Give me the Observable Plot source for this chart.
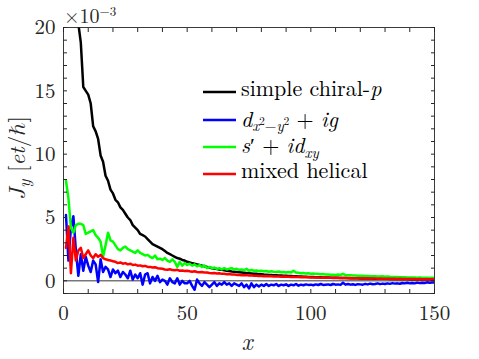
<!DOCTYPE html>
<html>
<head>
<meta charset="utf-8">
<script src="https://cdn.jsdelivr.net/npm/d3@7"></script>
<script src="https://cdn.jsdelivr.net/npm/@observablehq/plot@0.6"></script>
<style>
  html, body { margin: 0; padding: 0; background: #fff; }
  #chart { position: relative; width: 479px; height: 359px; }
  svg, svg text { font-family: "Latin Modern Roman", "Liberation Serif", serif; }
</style>
</head>
<body>
<div id="chart"></div>
<script>
// ---- data (x = 1..150) ----
const xs = d3.range(1, 151);

const chiralP = [
  40, 34, 29, 25, 22, 20.3, 18.8, 15.3, 15.0, 14.7,
  14.0, 12.2, 11.8, 11.2, 9.9, 9.4, 8.3, 7.9, 7.2, 6.9,
  6.4, 6.2, 5.8, 5.6, 5.3, 5.0, 4.8, 4.4, 4.2, 4.0,
  3.7, 3.6, 3.5, 3.3, 3.1, 2.9, 2.8, 2.7, 2.6, 2.5,
  2.35, 2.2, 2.1, 2.0, 1.9, 1.8, 1.75, 1.65, 1.6, 1.5,
  1.45, 1.4, 1.35, 1.3, 1.25, 1.2, 1.15, 1.1, 1.05, 1.0,
  0.97, 0.93, 0.9, 0.87, 0.84, 0.8, 0.77, 0.74, 0.72, 0.7,
  0.68, 0.66, 0.64, 0.62, 0.6, 0.58, 0.56, 0.55, 0.53, 0.52,
  0.5, 0.49, 0.47, 0.46, 0.45, 0.44, 0.43, 0.42, 0.41, 0.40,
  0.39, 0.38, 0.37, 0.36, 0.35, 0.34, 0.33, 0.32, 0.31, 0.30,
  0.30, 0.29, 0.28, 0.28, 0.27, 0.26, 0.26, 0.25, 0.25, 0.24,
  0.24, 0.23, 0.23, 0.22, 0.22, 0.21, 0.21, 0.20, 0.20, 0.19,
  0.19, 0.19, 0.18, 0.18, 0.18, 0.17, 0.17, 0.17, 0.16, 0.16,
  0.16, 0.15, 0.15, 0.15, 0.15, 0.14, 0.14, 0.14, 0.14, 0.13,
  0.13, 0.13, 0.13, 0.12, 0.12, 0.12, 0.12, 0.12, 0.11, 0.11
];

const dxyIg = [
  5.2, 1.6, 4.2, 5.1, 2.4, 0.4, 2.1, 0.8, 1.9, 1.2,
  0.7, 1.6, 1.3, -0.1, 1.7, 0.7, 1.1, 0.9, 0.3, 0.9,
  0.6, 0.8, 0.3, 0.7, 0.5, 0.2, 0.8, 0.1, 0.5, 0.2,
  0.6, -0.3, 0.5, 0.6, -0.2, 0.3, 0.0, 0.4, -0.1, 0.1,
  0.0, -0.3, 0.2, -0.1, -0.2, 0.2, -0.3, 0.0, -0.2, -0.2,
  0.0, -0.4, -0.7, 0.1, -0.2, -0.4, -0.1, -0.3, -0.5, -0.3,
  -0.1, -0.4, -0.2, -0.3, -0.1, -0.3, -0.2, -0.4, -0.2, -0.3,
  -0.4, -0.2, -0.5, -0.3, -0.6, -0.2, -0.5, -0.3, -0.45, -0.3,
  -0.4, -0.25, -0.4, -0.3, -0.35, -0.25, -0.4, -0.3, -0.35, -0.28,
  -0.4, -0.3, -0.35, -0.25, -0.38, -0.3, -0.35, -0.28, -0.32, -0.3,
  -0.35, -0.28, -0.33, -0.25, -0.32, -0.3, -0.28, -0.33, -0.25, -0.3,
  -0.28, -0.32, -0.15, -0.3, -0.25, -0.3, -0.27, -0.32, -0.26, -0.28,
  -0.3, -0.24, -0.28, -0.22, -0.27, -0.25, -0.2, -0.26, -0.22, -0.25,
  -0.2, -0.24, -0.18, -0.22, -0.2, -0.23, -0.17, -0.2, -0.15, -0.2,
  -0.17, -0.2, -0.14, -0.18, -0.15, -0.17, -0.12, -0.15, -0.13, -0.12
];

const sIdxy = [
  7.9, 6.5, 4.2, 3.8, 4.4, 4.5, 4.5, 4.4, 3.7, 3.8,
  3.9, 4.0, 3.6, 3.4, 3.1, 1.9, 2.8, 3.8, 3.2, 3.1,
  2.8, 2.5, 2.4, 2.6, 2.7, 2.5, 2.4, 2.3, 2.2, 2.4,
  2.2, 2.1, 2.0, 2.05, 1.9, 1.8, 2.0, 1.7, 1.75, 1.65,
  1.8, 1.6, 1.5, 1.7, 1.5, 1.1, 1.5, 1.2, 1.4, 1.25,
  1.35, 1.2, 1.3, 1.15, 1.25, 1.1, 1.2, 1.0, 1.1, 1.0,
  1.05, 0.95, 1.0, 0.9, 1.0, 0.9, 0.95, 1.0, 0.9, 0.95,
  0.87, 0.9, 0.85, 0.95, 0.8, 0.85, 0.8, 0.82, 0.78, 0.8,
  0.75, 0.78, 0.72, 0.76, 0.72, 0.7, 0.74, 0.68, 0.7, 0.66,
  0.7, 0.65, 0.8, 0.66, 0.64, 0.6, 0.62, 0.58, 0.6, 0.56,
  0.58, 0.55, 0.54, 0.52, 0.53, 0.5, 0.5, 0.48, 0.49, 0.47,
  0.5, 0.46, 0.55, 0.45, 0.44, 0.45, 0.42, 0.43, 0.41, 0.4,
  0.41, 0.38, 0.39, 0.37, 0.36, 0.37, 0.35, 0.34, 0.36, 0.33,
  0.34, 0.32, 0.31, 0.3, 0.31, 0.29, 0.28, 0.29, 0.27, 0.27,
  0.26, 0.27, 0.25, 0.26, 0.25, 0.24, 0.24, 0.23, 0.24, 0.23
];

const mixedHelical = [
  2.6, 4.3, 0.6, 3.4, 1.6, 2.4, 2.6, 1.8, 2.1, 2.4,
  2.0, 1.8, 2.1, 1.9, 2.05, 1.8, 1.7, 1.65, 1.6, 1.55,
  1.5, 1.4, 1.45, 1.35, 1.4, 1.3, 1.35, 1.25, 1.28, 1.2,
  1.22, 1.15, 1.18, 1.1, 1.1, 1.05, 1.08, 1.0, 0.98, 0.95,
  0.9, 0.88, 0.92, 0.85, 0.84, 0.87, 0.8, 0.82, 0.78, 0.8,
  0.75, 0.72, 0.76, 0.7, 0.68, 0.7, 0.65, 0.66, 0.62, 0.6,
  0.62, 0.58, 0.6, 0.55, 0.56, 0.52, 0.54, 0.5, 0.5, 0.47,
  0.46, 0.45, 0.44, 0.45, 0.42, 0.43, 0.4, 0.41, 0.38, 0.39,
  0.37, 0.38, 0.36, 0.37, 0.35, 0.34, 0.35, 0.33, 0.34, 0.32,
  0.32, 0.31, 0.32, 0.3, 0.3, 0.29, 0.3, 0.28, 0.29, 0.27,
  0.27, 0.26, 0.27, 0.25, 0.26, 0.25, 0.24, 0.25, 0.23, 0.24,
  0.23, 0.22, 0.23, 0.22, 0.21, 0.22, 0.2, 0.21, 0.2, 0.2,
  0.19, 0.2, 0.18, 0.19, 0.18, 0.18, 0.17, 0.18, 0.17, 0.17,
  0.16, 0.17, 0.16, 0.16, 0.15, 0.16, 0.15, 0.15, 0.14, 0.15,
  0.14, 0.14, 0.13, 0.14, 0.13, 0.13, 0.12, 0.13, 0.12, 0.12
];

const seriesKeys = ["chiralP", "dxyIg", "sIdxy", "mixedHelical"];
const seriesColors = ["#000000", "#0000ff", "#00ff00", "#ff0000"];
const xTickLabels = [0, 50, 100, 150];
const yTickLabels = [0, 5, 10, 15, 20];
const xMinorTicks = d3.range(0, 151, 10);
const yMinorTicks = d3.range(-1, 21, 1);

const seriesValues = {chiralP, dxyIg, sIdxy, mixedHelical};
const rows = seriesKeys.flatMap(k => xs.map((x, i) => ({series: k, x, y: seriesValues[k][i]})));

const axisColor = "#262626";
const serif = "Latin Modern Roman, Liberation Serif, serif";

const chart = Plot.plot({
  width: 479,
  height: 359,
  marginLeft: 63,
  marginRight: 45,
  marginTop: 27,
  marginBottom: 66,
  style: {fontFamily: serif, fontSize: "21px", color: axisColor, background: "white"},
  x: {domain: [0, 150]},
  y: {domain: [-1, 20]},
  color: {domain: seriesKeys, range: seriesColors},
  marks: [
    Plot.ruleY([0], {stroke: "#000", strokeWidth: 0.8}),
    Plot.line(rows, {x: "x", y: "y", z: "series", stroke: "series", strokeWidth: 2.5, clip: true}),
    Plot.frame({stroke: axisColor, strokeWidth: 0.9}),
    Plot.axisX(xTickLabels, {anchor: "bottom", tickSize: 0, tickPadding: 12, fontSize: 21, label: null}),
    Plot.axisX(xMinorTicks, {anchor: "bottom", tickSize: -4, tickFormat: () => "", label: null, stroke: axisColor}),
    Plot.axisX(xMinorTicks, {anchor: "top", tickSize: -4, tickFormat: () => "", label: null, stroke: axisColor}),
    Plot.axisY(yTickLabels, {anchor: "left", tickSize: 0, tickPadding: 8, fontSize: 21, label: null}),
    Plot.axisY(yMinorTicks, {anchor: "left", tickSize: -4, tickFormat: () => "", label: null, stroke: axisColor}),
    Plot.axisY(yMinorTicks, {anchor: "right", tickSize: -4, tickFormat: () => "", label: null, stroke: axisColor})
  ]
});
document.getElementById("chart").appendChild(chart);

// ---- annotations: axis labels, exponent, legend ----
const svg = d3.select(chart);

function addText(parent, x, y, parts, opts = {}) {
  const t = parent.append("text")
    .attr("x", x).attr("y", y)
    .attr("fill", opts.fill || axisColor)
    .attr("font-family", serif)
    .attr("font-size", opts.size || 18)
    .attr("text-anchor", opts.anchor || "start");
  if (opts.transform) t.attr("transform", opts.transform);
  parts.forEach(p => {
    const s = t.append("tspan").text(p.t);
    if (p.i) s.attr("font-style", "italic");
    if (p.dy) s.attr("dy", p.dy);
    if (p.s) s.attr("font-size", p.s);
    if (p.f) s.attr("font-family", p.f);
  });
  return t;
}

// x label
addText(svg, 247, 350, [{t: "x", i: 1}], {size: 24, anchor: "middle"});

// y label (rotated)
addText(svg, 0, 0, [
  {t: "J", i: 1}, {t: "y", i: 1, dy: 5, s: 17}, {t: " [", dy: -5}, {t: "et", i: 1}, {t: "/"},
  {t: "ℏ", f: "Latin Modern Math, Noto Serif CJK SC, Liberation Serif, serif"}, {t: "]"}
], {size: 23, anchor: "middle", transform: "translate(25,158) rotate(-90)"});

// exponent
addText(svg, 64, 23, [{t: "×10"}, {t: "−3", dy: -7, s: 13}], {size: 20});

// legend
const legendItems = [
  {color: seriesColors[0], parts: [{t: "simple chiral-"}, {t: "p", i: 1}]},
  {color: seriesColors[1], parts: [{t: "d", i: 1}, {t: "x", i: 1, dy: 4, s: 15}, {t: "2", dy: -6, s: 11}, {t: "−", dy: 6, s: 15}, {t: "y", i: 1, s: 15}, {t: "2", dy: -6, s: 11}, {t: " + ", dy: 2}, {t: "ig", i: 1}]},
  {color: seriesColors[2], parts: [{t: "s", i: 1}, {t: "′ + "}, {t: "id", i: 1}, {t: "xy", i: 1, dy: 5, s: 15}]},
  {color: seriesColors[3], parts: [{t: "mixed helical"}]}
];
const legendY = [92, 120, 147, 174];
const legendBase = [96, 127, 153, 178];
const lg = svg.append("g");
legendItems.forEach((it, i) => {
  const y = legendY[i];
  lg.append("line").attr("x1", 203).attr("x2", 236).attr("y1", y).attr("y2", y)
    .attr("stroke", it.color).attr("stroke-width", 2.5);
  addText(lg, 241, legendBase[i], it.parts, {size: 22, fill: "#000"});
});
</script>
</body>
</html>
